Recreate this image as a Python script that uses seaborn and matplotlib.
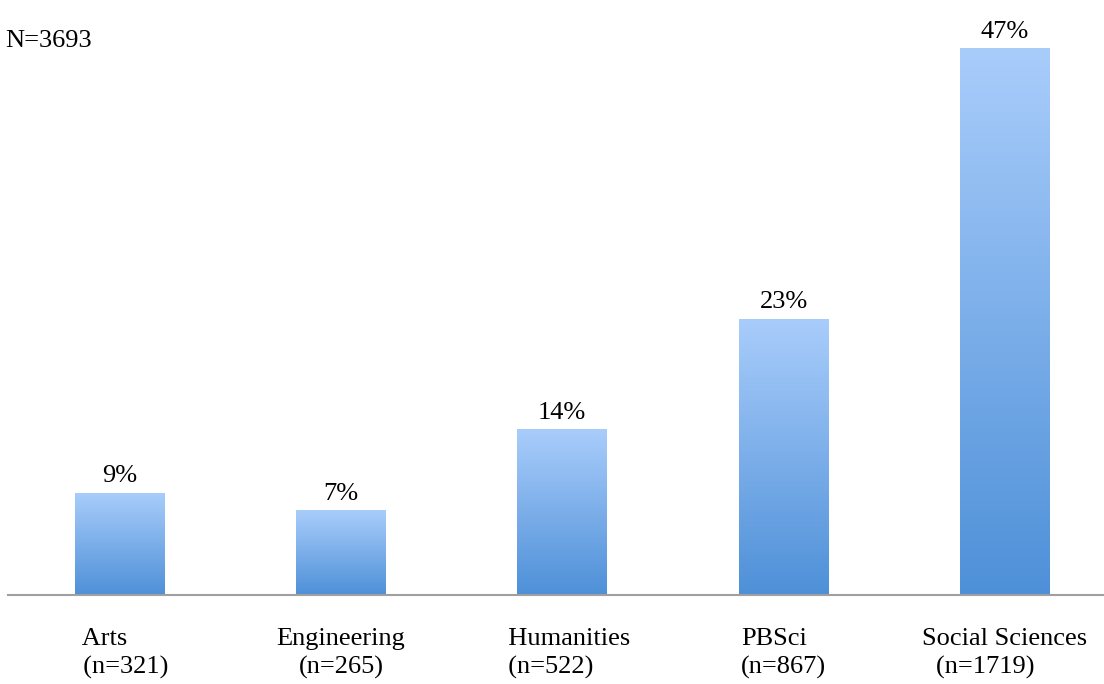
import numpy as np
import matplotlib
matplotlib.use("Agg")
import matplotlib.pyplot as plt
import seaborn as sns
import pandas as pd
from matplotlib.colors import LinearSegmentedColormap

categories = ["Arts", "Engineering", "Humanities", "PBSci", "Social Sciences"]
counts = ["321", "265", "522", "867", "1719"]
shares = [8.7, 7.2, 14.1, 23.5, 46.5]
pct_labels = ["9%", "7%", "14%", "23%", "47%"]
total_label = "N=3693"

sns.set_theme(style="white")
plt.rcParams["font.family"] = ["Liberation Serif", "DejaVu Serif"]

fig = plt.figure(figsize=(11.04, 6.84), dpi=100)
ax = fig.add_axes([8 / 1104, 1 - 595 / 684, 1 - 8 / 1104, (595 - 19) / 684])

df = pd.DataFrame({"cat": categories, "share": shares})
sns.barplot(data=df, x="cat", y="share", ax=ax, width=0.406,
            color="#7aaee8", saturation=1)

# gradient fill for each bar
cmap = LinearSegmentedColormap.from_list("g", ["#A9CDFB", "#4E90D8"])
grad = np.linspace(0, 1, 256).reshape(-1, 1)
for p in ax.patches:
    x0, y0 = p.get_x(), p.get_y()
    w, h = p.get_width(), p.get_height()
    p.set_facecolor("none")
    p.set_edgecolor("none")
    im = ax.imshow(grad, cmap=cmap, aspect="auto", origin="upper",
                   extent=[x0, x0 + w, y0, y0 + h], zorder=2)
    im.set_clip_path(p)

ax.set_xlim(-0.5036, 4.447)
ax.set_ylim(0, 49)

for i, (v, lab) in enumerate(zip(shares, pct_labels)):
    ax.annotate(lab, xy=(i, v), xytext=(0, 4), textcoords="offset points",
                ha="center", va="bottom", fontsize=19, color="black")

lead = ["  ", "", "  ", "", ""]
ticklabels = [f"{l}{c}\n{l}(n={n})" for l, c, n in zip(lead, categories, counts)]
ticklabels[-1] = ticklabels[-1] + "      "
ax.set_xticks(range(len(categories)))
ax.set_xticklabels(ticklabels, fontsize=19, color="black", linespacing=1.3)
aligns = ["left", "center", "left", "left", "center"]
for t, a in zip(ax.get_xticklabels(), aligns):
    t.set_multialignment(a)
ax.tick_params(axis="x", length=0, pad=24)
ax.set_yticks([])
ax.set_xlabel("")
ax.set_ylabel("")

for s in ["left", "top", "right"]:
    ax.spines[s].set_visible(False)
ax.spines["bottom"].set_color("#A0A0A0")
ax.spines["bottom"].set_linewidth(1.5)

fig.text(5 / 1104, 1 - 47 / 684, total_label, fontsize=19, ha="left",
         va="baseline", color="black")

fig.savefig("out.png", dpi=100, facecolor="white")
